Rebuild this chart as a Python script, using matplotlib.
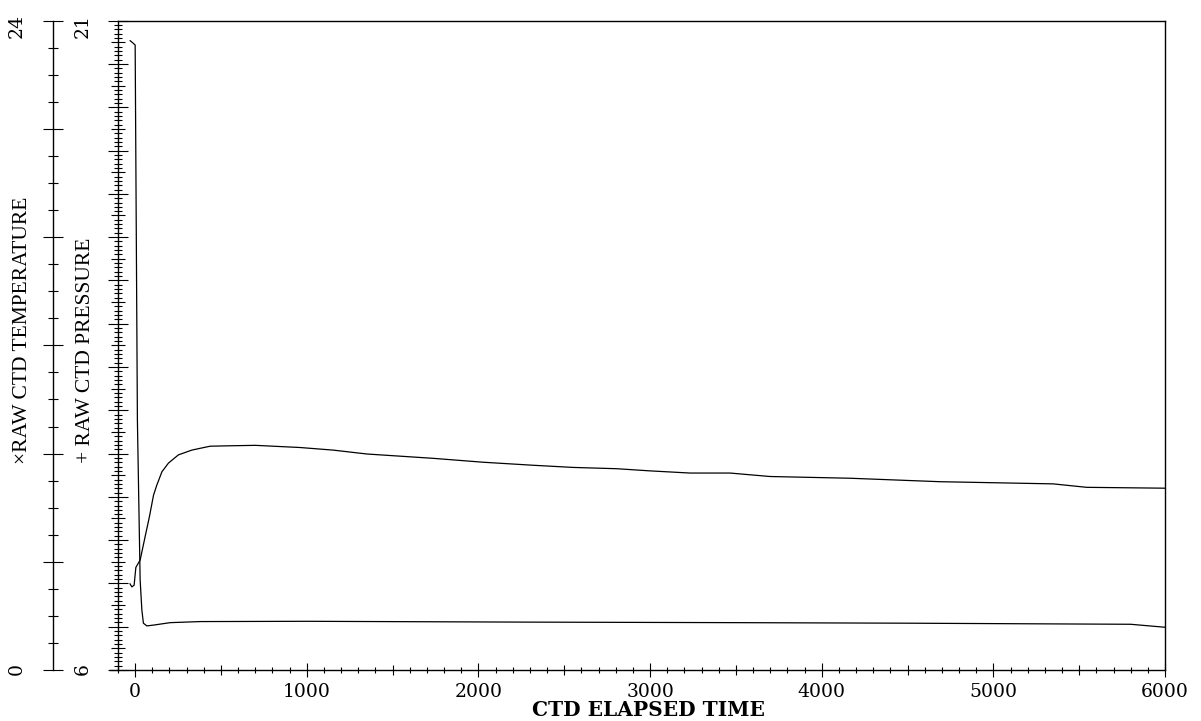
import matplotlib
matplotlib.use("Agg")
import matplotlib.pyplot as plt
from matplotlib.ticker import MultipleLocator, FuncFormatter
from matplotlib.lines import Line2D

# ---- data ----
temp_time = [-29, -10, 0, 13, 29, 39, 48, 68, 107, 204, 379, 1000, 2270, 3520, 4500, 5800, 6000]
temp_vals = [23.26, 23.16, 23.10, 9.24, 3.33, 2.22, 1.73, 1.63, 1.66, 1.75, 1.79, 1.80, 1.77, 1.75, 1.73, 1.69, 1.58]

pres_time = [-30, -19, -6, 4, 29, 58, 83, 107, 126, 156, 194, 252, 330, 389, 437, 553, 700,
             960, 1153, 1350, 1736, 2027, 2318, 2551, 2806, 3000, 3233, 3466, 3582, 3699,
             4165, 4689, 5348, 5544, 6000]
pres_vals = [7.99, 7.92, 7.96, 8.37, 8.54, 9.08, 9.54, 10.04, 10.27, 10.58, 10.78, 10.97, 11.08,
             11.13, 11.17, 11.18, 11.19, 11.14, 11.08, 10.99, 10.89, 10.80, 10.73, 10.68, 10.65,
             10.60, 10.55, 10.55, 10.51, 10.47, 10.43, 10.35, 10.30, 10.22, 10.20]

x_label = "CTD ELAPSED TIME"
temp_label = "\u00d7RAW CTD TEMPERATURE"
pres_label = "+ RAW CTD PRESSURE"

W, H = 1201, 721
fig = plt.figure(figsize=(W / 100, H / 100), dpi=100)
L, R, T, B = 118, 1165, 20.7, 670
rect = [L / W, 1 - B / H, (R - L) / W, (B - T) / H]

lab_font = ["DejaVu Serif Condensed", "Liberation Serif"]

ax = fig.add_axes(rect)
ax.set_xlim(-100, 6000)
ax.set_ylim(6, 21)
for s in ax.spines.values():
    s.set_linewidth(1.0)
    s.set_color("black")

# temperature axes (outer left)
axt = fig.add_axes(rect, sharex=ax)
axt.patch.set_visible(False)
axt.set_ylim(0, 24)
for k in ("top", "right", "bottom"):
    axt.spines[k].set_visible(False)
axt.spines["left"].set_position(("outward", 65 * 0.72))
axt.spines["left"].set_linewidth(1.0)
axt.tick_params(axis="x", which="both", bottom=False, labelbottom=False)

ax.plot(pres_time, pres_vals, color="black", lw=0.9)
axt.plot(temp_time, temp_vals, color="black", lw=0.9)

# --- x ticks ---
ax.xaxis.set_major_locator(MultipleLocator(500))
ax.xaxis.set_minor_locator(MultipleLocator(100))
ax.xaxis.set_major_formatter(FuncFormatter(lambda v, p: f"{int(round(v))}" if abs(v % 1000) < 1e-6 else ""))
ax.tick_params(axis="x", which="major", direction="inout", length=9.4, width=0.8, pad=4.7, labelsize=13.5)
ax.tick_params(axis="x", which="minor", direction="inout", length=5.0, width=0.8)

# --- inner y ticks (pressure) ---
ax.yaxis.set_major_locator(MultipleLocator(0.5))
ax.yaxis.set_minor_locator(MultipleLocator(0.1))
ax.yaxis.set_major_formatter(FuncFormatter(lambda v, p: f"{int(round(v))}" if abs(v - 6) < 1e-6 or abs(v - 21) < 1e-6 else ""))
ax.tick_params(axis="y", which="major", direction="inout", length=14.4, width=0.8, pad=12, labelsize=13.5, labelrotation=90)
ax.tick_params(axis="y", which="minor", direction="inout", length=6.3, width=0.8)
ax.tick_params(axis="y", which="both", right=False)

# --- outer y ticks (temperature) ---
axt.yaxis.set_major_locator(MultipleLocator(4))
axt.yaxis.set_minor_locator(MultipleLocator(1))
axt.yaxis.set_major_formatter(FuncFormatter(lambda v, p: f"{int(round(v))}" if abs(v) < 1e-6 or abs(v - 24) < 1e-6 else ""))
axt.tick_params(axis="y", which="major", direction="inout", length=13.7, width=0.8, pad=13, labelsize=13.5, labelrotation=90)
axt.tick_params(axis="y", which="minor", direction="inout", length=6.5, width=0.8)

for lab in ax.get_xticklabels() + ax.get_yticklabels() + axt.get_yticklabels():
    lab.set_family("DejaVu Serif")

fig.canvas.draw()
# shorter mid ticks (x at 500s, y at .5s)
for loc, tk in zip(ax.xaxis.get_majorticklocs(), ax.xaxis.get_major_ticks()):
    if abs(loc % 1000) > 1e-6:
        tk.tick1line.set_markersize(7.2)
for loc, tk in zip(ax.yaxis.get_majorticklocs(), ax.yaxis.get_major_ticks()):
    if abs(loc % 1) > 1e-6:
        tk.tick1line.set_markersize(9.4)

# small extension of the x axis line to the left
ax.add_line(Line2D([-8 / (R - L), 0], [0, 0], transform=ax.transAxes, color="black", lw=1.0, clip_on=False))

fig.text(648 / W, 1 / H, x_label, ha="center", va="bottom", fontsize=14.5, fontweight="bold", family="DejaVu Serif")
fig.text(23 / W, 1 - 330 / H, temp_label, rotation=90, ha="center", va="center", fontsize=15.5, family=lab_font)
fig.text(86 / W, 1 - 350 / H, pres_label, rotation=90, ha="center", va="center", fontsize=15.5, family=lab_font)

fig.savefig("out.png", dpi=100)
